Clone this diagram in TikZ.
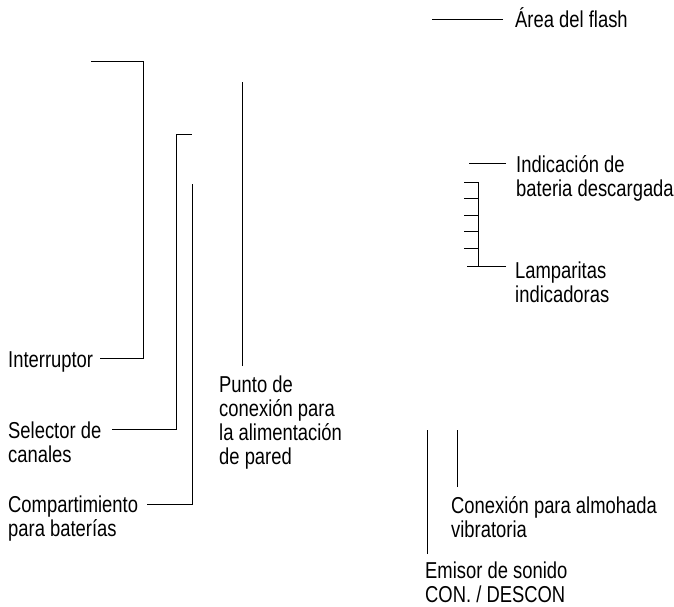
\documentclass[tikz,border=0pt]{standalone}
\usepackage{fontspec}
\setmainfont{Liberation Sans}[FakeStretch=0.8]
\begin{document}
\begin{tikzpicture}[x=1pt,y=-1pt,
  lbl/.style={anchor=base west,inner sep=0pt,align=left,font=\fontsize{23}{24}\selectfont},
  ln/.style={draw=black,line width=0.9pt}]
\useasboundingbox (0,0) rectangle (674,607);
% labels (base anchor = baseline of last line)
\node[lbl] (interr) at (8,367) {Interruptor};
\node[lbl] (selec) at (8,462) {Selector de\\canales};
\node[lbl] (comp) at (8,536) {Compartimiento\\para baterías};
\node[lbl] (punto) at (219,464) {Punto de\\conexión para\\la alimentación\\de pared};
\node[lbl] (flash) at (515,28) {Área del flash};
\node[lbl] (indic) at (516,196) {Indicación de\\bateria descargada};
\node[lbl] (lamp) at (515,302) {Lamparitas\\indicadoras};
\node[lbl] (almo) at (451,537) {Conexión para almohada\\vibratoria};
\node[lbl] (emis) at (425,602) {Emisor de sonido\\CON. / DESCON};
% coordinates
\coordinate (i1) at (100,358); \coordinate (i2) at (143,61); \coordinate (i3) at (91,61);
\coordinate (s1) at (112,429); \coordinate (s2) at (176,134); \coordinate (s3) at (192,134);
\coordinate (c1) at (147,504); \coordinate (c2) at (192,184);
\coordinate (p1) at (242,366); \coordinate (p2) at (242,82);
\coordinate (f1) at (503,19); \coordinate (f2) at (432,19);
\coordinate (d1) at (506,163); \coordinate (d2) at (469,163);
\coordinate (l1) at (506,266); \coordinate (l2) at (467,266); \coordinate (lb) at (478,266); \coordinate (lt) at (478,182);
\coordinate (a1) at (457,487); \coordinate (a2) at (457,430);
\coordinate (e1) at (427,554); \coordinate (e2) at (427,430);
% connectors
\draw[ln] (i1) -| (i2) -- (i3);
\draw[ln] (s1) -| (s2) -- (s3);
\draw[ln] (c1) -| (c2);
\draw[ln] (p1) -- (p2);
\draw[ln] (f1) -- (f2);
\draw[ln] (d1) -- (d2);
\draw[ln] (l1) -- (l2);
\draw[ln] (lb) -- (lt);
\foreach \yy in {182,198.5,215,231.5,248} \draw[ln] (464,\yy) -- (478,\yy);
\draw[ln] (a1) -- (a2);
\draw[ln] (e1) -- (e2);
\end{tikzpicture}
\end{document}
